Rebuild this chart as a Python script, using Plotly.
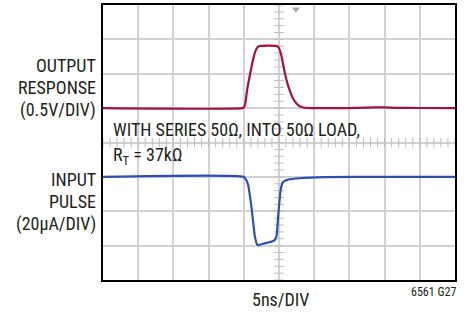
import plotly.graph_objects as go

# ---- data ----
# output response (V) vs time (ns)
out_t = [0, 19.8, 20.0, 20.2, 20.45, 20.9, 21.3, 21.65, 22.0, 22.4, 24.6, 24.95, 25.3, 25.85, 26.2, 26.55,
         26.9, 27.3, 27.7, 28.2, 28.8, 33, 36, 38.5, 40, 41.5, 45, 50]
out_v = [0, 0, 0.01, 0.06, 0.25, 0.5, 0.7, 0.83, 0.89, 0.905, 0.905, 0.88, 0.78, 0.5, 0.36, 0.25,
         0.16, 0.09, 0.045, 0.015, 0.004, 0, 0.003, 0.012, 0.01, 0.005, 0.002, 0]

# input pulse (uA) vs time (ns)
in_t = [0, 20.0, 20.25, 20.6, 21.1, 21.6, 21.95, 22.5, 23.2, 24.0, 24.4, 24.65, 24.9, 25.28, 25.6,
        26.3, 28, 31.5, 40, 50]
in_i = [0, 0, -1.2, -4.4, -17.9, -35.3, -39.7, -39.2, -38.4, -37.6, -36.7, -34.3, -21.8, -6.4, -2.9,
        -1.6, -0.8, -0.2, 0, 0]

x_range = [0, 50]          # ns, 5 ns/DIV
out_range = [-2.5, 1.5]    # V, 0.5 V/DIV
in_range = [-60, 100]      # uA, 20 uA/DIV
trigger_t = 27.4

RED = "#a3113d"
BLUE = "#2f4fae"
GRID = "#d2d2d2"
TXT = "#231f20"
FONT = "Liberation Sans Narrow, Arial Narrow, Roboto Condensed, Liberation Sans, sans-serif"

fig = go.Figure()

# minor ticks on the centre lines
xc = (x_range[0] + x_range[1]) / 2
yc = -0.5
vt = [round(out_range[0] + 0.1 * k, 2) for k in range(int(round((out_range[1] - out_range[0]) / 0.1)) + 1)]
ht = [x_range[0] + 1.0 * k for k in range(int(x_range[1] - x_range[0]) + 1)]
fig.add_trace(go.Scatter(x=[xc] * len(vt), y=vt, mode="markers",
                         marker=dict(symbol="line-ew", size=7, line=dict(color="#bdbdbd", width=1)),
                         hoverinfo="skip", showlegend=False))
fig.add_trace(go.Scatter(x=ht, y=[yc] * len(ht), mode="markers",
                         marker=dict(symbol="line-ns", size=7, line=dict(color="#bdbdbd", width=1)),
                         hoverinfo="skip", showlegend=False))

fig.add_trace(go.Scatter(x=out_t, y=out_v, mode="lines", line=dict(color=RED, width=2.2, shape="spline", smoothing=0.6),
                         showlegend=False, hoverinfo="skip"))
fig.add_trace(go.Scatter(x=in_t, y=in_i, mode="lines", yaxis="y2",
                         line=dict(color=BLUE, width=2.2, shape="spline", smoothing=0.6),
                         showlegend=False, hoverinfo="skip"))

# trigger marker
fig.add_trace(go.Scatter(x=[trigger_t], y=[out_range[1] - 0.06], mode="markers",
                         marker=dict(symbol="triangle-down", size=7, color="#a8a8a8"),
                         hoverinfo="skip", showlegend=False, cliponaxis=False))

# white text band
fig.add_shape(type="rect", xref="x domain", yref="y", x0=0.004, x1=0.996, y0=-0.03, y1=-0.42,
              fillcolor="white", line=dict(width=0), layer="below")

fig.update_layout(
    width=473, height=316,
    margin=dict(l=103, r=18, t=3, b=36),
    paper_bgcolor="white", plot_bgcolor="white",
    font=dict(family=FONT, color=TXT),
    xaxis=dict(range=x_range, dtick=5, tick0=0, showgrid=True, gridcolor=GRID, gridwidth=1.5,
               showticklabels=False, ticks="", zeroline=False, showline=True, linecolor="black",
               linewidth=2, mirror=True, fixedrange=True),
    yaxis=dict(range=out_range, dtick=0.5, tick0=0, showgrid=True, gridcolor=GRID, gridwidth=1.5,
               showticklabels=False, ticks="", zeroline=False, showline=True, linecolor="black",
               linewidth=2, mirror=True, fixedrange=True),
    yaxis2=dict(range=in_range, overlaying="y", showgrid=False, showticklabels=False, ticks="",
                zeroline=False, showline=False, fixedrange=True),
)

ann = dict(xref="paper", yref="paper", showarrow=False, font=dict(size=18, family=FONT, color=TXT))
# plot area in pixels: x 103..455, y 3..280
def py(p):
    return (280 - p) / 277.0

def px(p):
    return (p - 103) / 352.0

left_labels = [("OUTPUT", 63.5), ("RESPONSE", 86), ("(0.5V/DIV)", 109),
               ("INPUT", 178.5), ("PULSE", 201), ("(20µA/DIV)", 224)]
for txt, yy in left_labels:
    fig.add_annotation(text=txt, x=px(98), y=py(yy), xanchor="right", yanchor="middle", **ann)

fig.add_annotation(text="WITH SERIES 50Ω, INTO 50Ω LOAD,", x=px(111), y=py(128.5),
                   xanchor="left", yanchor="middle", **ann)
fig.add_annotation(text="R<sub>T</sub> = 37kΩ", x=px(111), y=py(155),
                   xanchor="left", yanchor="middle", **ann)
fig.add_annotation(text="5ns/DIV", x=px(280), y=py(300), xanchor="center", yanchor="middle", **ann)
fig.add_annotation(text="6561 G27", x=px(458), y=py(292), xanchor="right", yanchor="middle",
                   xref="paper", yref="paper", showarrow=False, font=dict(size=12, family=FONT, color=TXT))

fig.write_html("out.html", config={"displayModeBar": False},
               post_script="document.body.style.margin='0';document.body.style.overflow='hidden';")
